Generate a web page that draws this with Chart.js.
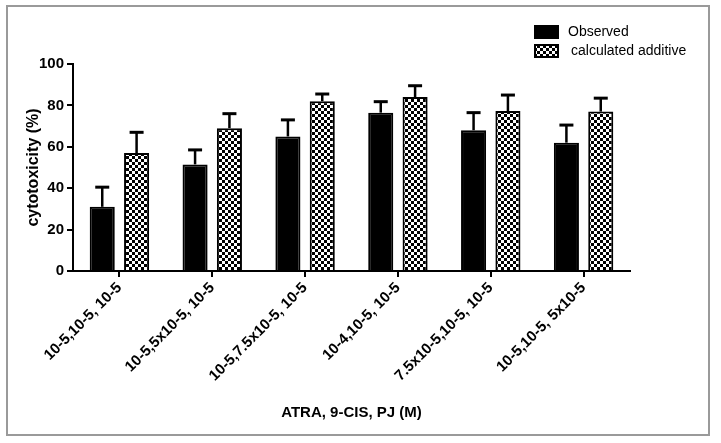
<!DOCTYPE html>
<html>
<head>
<meta charset="utf-8">
<script src="https://cdn.jsdelivr.net/npm/chart.js@4.4.0/dist/chart.umd.min.js"></script>
<style>
  html, body { margin: 0; padding: 0; background: #fff; }
  #chart { display: block; }
</style>
</head>
<body>
<canvas id="chart" width="721" height="443"></canvas>
<script>
// Cytotoxicity: observed vs calculated additive, ATRA / 9-CIS / PJ combinations

const categories = [
  '10-5,10-5, 10-5',
  '10-5,5x10-5, 10-5',
  '10-5,7.5x10-5, 10-5',
  '10-4,10-5, 10-5',
  '7.5x10-5,10-5, 10-5',
  '10-5,10-5, 5x10-5'
];
const observed      = [31, 51.5, 65, 76.5, 68, 62];
const observedErr   = [9.5, 7, 8, 5.3, 8.5, 8.5];
const additive      = [57, 69, 82, 84, 77.3, 77];
const additiveErr   = [10, 7, 3.5, 5.5, 7.7, 6.5];
const yTicks        = [0, 20, 40, 60, 80, 100];

const FONT = '"Liberation Sans", Arial, sans-serif';

// checkerboard fill for the additive bars
function makeChecker() {
  const c = document.createElement('canvas');
  c.width = 6; c.height = 6;
  const g = c.getContext('2d');
  g.fillStyle = '#fff';
  g.fillRect(0, 0, 6, 6);
  g.fillStyle = '#000';
  g.fillRect(0, 0, 3, 3);
  g.fillRect(3, 3, 3, 3);
  return g.createPattern(c, 'repeat');
}
const checker = makeChecker();

// grey frame round the whole picture
const framePlugin = {
  id: 'frame',
  beforeDraw(chart) {
    const ctx = chart.ctx;
    ctx.save();
    ctx.fillStyle = '#fff';
    ctx.fillRect(0, 0, chart.width, chart.height);
    ctx.strokeStyle = '#9a9a9a';
    ctx.lineWidth = 2;
    ctx.strokeRect(7, 6, 702, 429);
    ctx.restore();
  }
};

// upper-only error bars
const errorPlugin = {
  id: 'errbars',
  afterDatasetsDraw(chart) {
    const ctx = chart.ctx;
    const y = chart.scales.y;
    ctx.save();
    ctx.strokeStyle = '#000';
    chart.data.datasets.forEach((ds, di) => {
      const meta = chart.getDatasetMeta(di);
      meta.data.forEach((bar, i) => {
        const top = y.getPixelForValue(ds.data[i] + ds.errors[i]);
        ctx.lineWidth = 2.5;
        ctx.beginPath();
        ctx.moveTo(bar.x, bar.y);
        ctx.lineTo(bar.x, top);
        ctx.stroke();
        ctx.lineWidth = 3;
        ctx.beginPath();
        ctx.moveTo(bar.x - 7, top);
        ctx.lineTo(bar.x + 7, top);
        ctx.stroke();
      });
    });
    ctx.restore();
  }
};

// stacked legend, top right
const legendPlugin = {
  id: 'sideLegend',
  afterDraw(chart) {
    const ctx = chart.ctx;
    const rows = [26, 45];
    ctx.save();
    ctx.font = '14px ' + FONT;
    ctx.textBaseline = 'middle';
    chart.data.datasets.forEach((ds, i) => {
      const y0 = rows[i];
      ctx.fillStyle = ds.backgroundColor;
      ctx.fillRect(535, y0, 23, 12);
      ctx.strokeStyle = '#000';
      ctx.lineWidth = 2;
      ctx.strokeRect(535, y0, 23, 12);
      ctx.fillStyle = '#000';
      ctx.fillText(ds.label, i === 0 ? 568 : 571, y0 + 6);
    });
    ctx.restore();
  }
};

new Chart(document.getElementById('chart'), {
  type: 'bar',
  data: {
    labels: categories,
    datasets: [
      {
        label: 'Observed',
        data: observed,
        errors: observedErr,
        backgroundColor: '#000',
        borderColor: '#000',
        borderWidth: 2
      },
      {
        label: 'calculated additive',
        data: additive,
        errors: additiveErr,
        backgroundColor: checker,
        borderColor: '#000',
        borderWidth: 2
      }
    ]
  },
  options: {
    responsive: false,
    animation: false,
    devicePixelRatio: 1,
    categoryPercentage: 0.74,
    barPercentage: 0.73,
    layout: { padding: { left: 0, right: 91, top: 64, bottom: 0 } },
    plugins: {
      legend: { display: false },
      tooltip: { enabled: false }
    },
    scales: {
      x: {
        afterFit(scale) { scale.height = 172; },
        grid: {
          offset: false,
          drawOnChartArea: false,
          drawTicks: true,
          tickLength: 6,
          color: '#000',
          lineWidth: 2
        },
        border: { display: true, color: '#000', width: 2 },
        ticks: {
          autoSkip: false,
          maxRotation: 45,
          minRotation: 45,
          padding: 2,
          color: '#000',
          font: { family: FONT, size: 15, weight: 'bold' }
        },
        title: {
          display: true,
          text: 'ATRA, 9-CIS, PJ (M)',
          color: '#000',
          font: { family: FONT, size: 15, weight: 'bold' },
          padding: { top: 4, bottom: 21 }
        }
      },
      y: {
        afterFit(scale) { scale.width = 73; },
        min: 0,
        max: 100,
        afterBuildTicks(scale) { scale.ticks = yTicks.map(v => ({ value: v })); },
        grid: {
          drawOnChartArea: false,
          drawTicks: true,
          tickLength: 6,
          color: '#000',
          lineWidth: 2
        },
        border: { display: true, color: '#000', width: 2 },
        ticks: {
          padding: 3,
          color: '#000',
          font: { family: FONT, size: 15, weight: 'bold' }
        },
        title: {
          display: true,
          text: 'cytotoxicity (%)',
          color: '#000',
          font: { family: FONT, size: 16, weight: 'bold' },
          padding: { top: 24, bottom: 4 }
        }
      }
    }
  },
  plugins: [framePlugin, errorPlugin, legendPlugin]
});
</script>
</body>
</html>
